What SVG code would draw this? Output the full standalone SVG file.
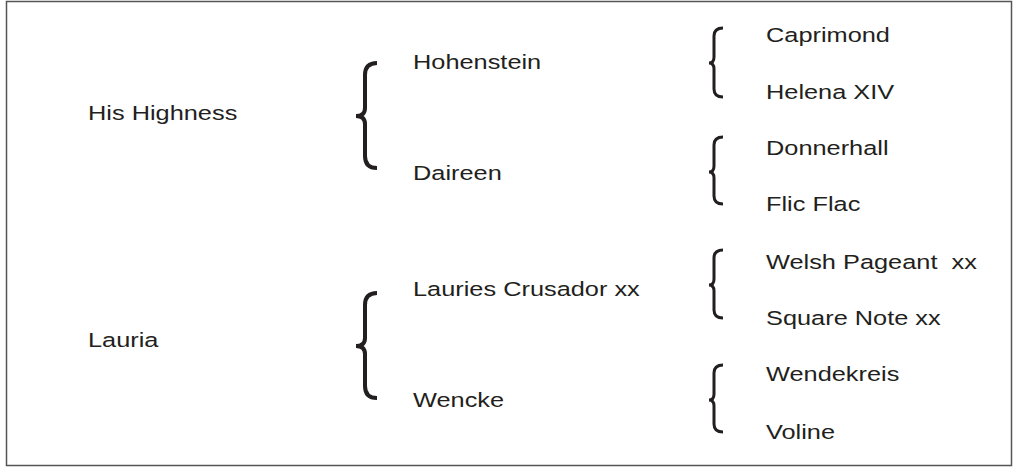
<svg xmlns="http://www.w3.org/2000/svg" width="1020" height="467" viewBox="0 0 1020 467">
<style>
text{font-family:"Liberation Sans",Arial,sans-serif;font-size:19.5px;fill:#231f20}
.big{fill:none;stroke:#231f20;stroke-width:4}
.small{fill:none;stroke:#231f20;stroke-width:3}
</style>
<rect x="6.5" y="1.5" width="1005" height="464" fill="#fff" stroke="#555" stroke-width="1.5"/>
<g id="connectors">
<path class="big" d="M377 63 Q365 63 365 75 L365 108 Q365 116 356 116 Q365 116 365 124 L365 156 Q365 168 377 168"/>
<path class="big" d="M377 293 Q365 293 365 305 L365 338 Q365 346 356 346 Q365 346 365 354 L365 386 Q365 398 377 398"/>
<path class="small" d="M723 28 Q714 28 714 36 L714 57 Q714 63 709 63 Q714 63 714 69 L714 89 Q714 97 723 97"/>
<path class="small" d="M723 137 Q714 137 714 145 L714 166 Q714 172 709 172 Q714 172 714 178 L714 196 Q714 204 723 204"/>
<path class="small" d="M723 250 Q714 250 714 258 L714 279 Q714 285 709 285 Q714 285 714 291 L714 310 Q714 318 723 318"/>
<path class="small" d="M723 365 Q714 365 714 373 L714 394 Q714 400 709 400 Q714 400 714 406 L714 424 Q714 432 723 432"/>
</g>
<g id="n-his-highness"><text transform="translate(88,120) scale(1.3,1)">His Highness</text></g>
<g id="n-lauria"><text transform="translate(88,347) scale(1.3,1)">Lauria</text></g>
<g id="n-hohenstein"><text transform="translate(413,69) scale(1.3,1)">Hohenstein</text></g>
<g id="n-daireen"><text transform="translate(413,180) scale(1.3,1)">Daireen</text></g>
<g id="n-lauries"><text transform="translate(413,296) scale(1.3,1)">Lauries Crusador xx</text></g>
<g id="n-wencke"><text transform="translate(413,407) scale(1.3,1)">Wencke</text></g>
<g id="n-caprimond"><text transform="translate(766,42) scale(1.3,1)">Caprimond</text></g>
<g id="n-helena"><text transform="translate(766,99) scale(1.3,1)">Helena XIV</text></g>
<g id="n-donnerhall"><text transform="translate(766,155) scale(1.3,1)">Donnerhall</text></g>
<g id="n-flicflac"><text transform="translate(766,211) scale(1.3,1)">Flic Flac</text></g>
<g id="n-welsh"><text transform="translate(766,269) scale(1.3,1)" xml:space="preserve">Welsh Pageant  xx</text></g>
<g id="n-square"><text transform="translate(766,325) scale(1.3,1)">Square Note xx</text></g>
<g id="n-wendekreis"><text transform="translate(766,381) scale(1.3,1)">Wendekreis</text></g>
<g id="n-voline"><text transform="translate(766,439) scale(1.3,1)">Voline</text></g>
</svg>
